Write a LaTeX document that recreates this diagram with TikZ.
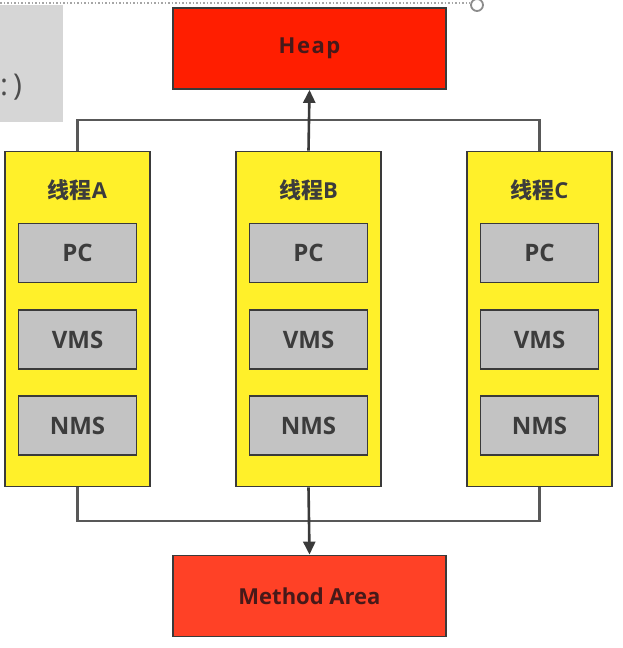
\documentclass[tikz,border=0pt]{standalone}
\usepackage{fontspec}
\setmainfont{Open Sans}
\newfontfamily\cjk{Noto Sans CJK SC}
\usetikzlibrary{arrows.meta}
\definecolor{heapred}{HTML}{FF1E00}
\definecolor{methred}{HTML}{FF4126}
\definecolor{thyellow}{HTML}{FFF02A}
\definecolor{boxgray}{HTML}{C3C3C3}
\definecolor{edge}{HTML}{3A3A3A}
\definecolor{txt}{HTML}{3C3C3C}
\begin{document}
\begin{tikzpicture}[x=1pt,y=-1pt,
  area/.style={draw=edge,line width=1.8pt,minimum width=273pt,minimum height=81pt,inner sep=0pt,
    font=\fontsize{22}{26}\selectfont\bfseries,text=txt!70!red!60!black},
  thread/.style={draw=edge,line width=1.8pt,fill=thyellow,minimum width=145pt,minimum height=335pt,inner sep=0pt},
  part/.style={draw=edge,line width=1.8pt,fill=boxgray,minimum width=118pt,minimum height=59pt,inner sep=0pt,
    font=\fontsize{24}{28}\selectfont\bfseries,text=txt},
  ttl/.style={font=\fontsize{22}{26}\selectfont\bfseries,text=txt},
  wire/.style={draw=edge!85,line width=2.4pt},
  arr/.style={draw=edge,line width=2.6pt,-{Triangle[length=13pt,width=12pt]}}]
\useasboundingbox (0,0) rectangle (622,648);
% screenshot artefacts
\fill[black!16] (0,5) rectangle (63,122);
\node[font=\fontsize{30}{34}\selectfont,text=black!70,anchor=west,inner sep=0pt] (paren) at (0,87) {:\,)};
\draw[black!35,line width=1.5pt,dotted] (0,3) -- (470,3);
\draw[black!45,line width=1.8pt] (477,5) circle (6);
% main boxes
\node[area,fill=heapred] (heap) at (309.5,48.5) {H\kern1.5pt e\kern1.5pt a\kern1.5pt p};
\node[area,fill=methred] (meth) at (309.5,596) {Method Area};
\foreach \n/\x in {A/77.5,B/308.5,C/539.5}{
  \node[thread] (t\n) at (\x,319) {};
  \node[ttl] (l\n) at (\x,190) {{\cjk\bfseries 线程}\n};
  \node[part] (pc\n) at (\x,253) {PC};
  \node[part] (vms\n) at (\x,339.5) {VMS};
  \node[part] (nms\n) at (\x,425.5) {NMS};
}
\coordinate (ta) at (tA.north |- 0,120);
\coordinate (tc) at (tC.north |- 0,120);
\coordinate (ba) at (tA.south |- 0,521);
\coordinate (bc) at (tC.south |- 0,521);
\draw[wire] (tA.north) -- (ta) -- (tc) -- (tC.north);
\draw[wire] (tA.south) -- (ba) -- (bc) -- (tC.south);
\draw[arr] (tB.north) -- (heap.south);
\draw[arr] (tB.south) -- (meth.north);
\end{tikzpicture}
\end{document}
